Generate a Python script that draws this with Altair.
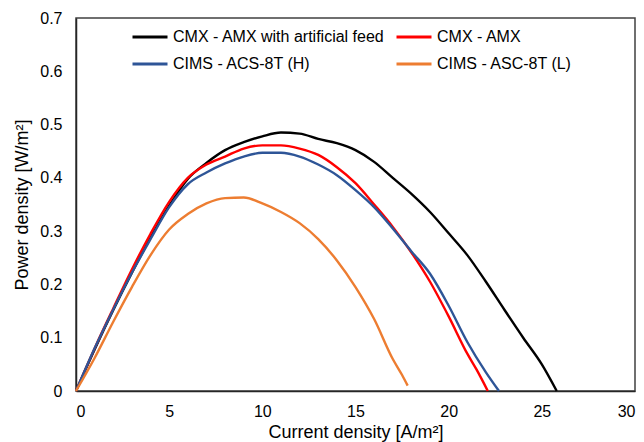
import altair as alt
import pandas as pd

series_names = [
    "CMX - AMX with artificial feed",
    "CMX - AMX",
    "CIMS - ACS-8T (H)",
    "CIMS - ASC-8T (L)",
]
series_colors = ["#000000", "#FF0000", "#2E5597", "#ED7D31"]
# legend is laid out column by column: column 1 = black, blue; column 2 = red, orange
legend_order = [series_names[0], series_names[2], series_names[1], series_names[3]]
legend_colors = [series_colors[0], series_colors[2], series_colors[1], series_colors[3]]

black_x = [0, 1, 2, 3, 4, 5, 6, 7, 8, 9, 10, 11, 12, 13, 14, 15, 16, 17, 18, 19, 20, 21, 22, 23, 24, 25, 25.8]
black_y = [0, 0.078, 0.152, 0.222, 0.288, 0.348, 0.398, 0.428, 0.452, 0.467, 0.478, 0.485, 0.483, 0.473, 0.465, 0.452, 0.43, 0.4, 0.37, 0.336, 0.296, 0.255, 0.205, 0.152, 0.1, 0.05, 0]

red_x = [0, 1, 2, 3, 4, 5, 6, 7, 8, 9, 10, 11, 12, 13, 14, 15, 16, 17, 18, 19, 20, 21, 21.5, 22.1]
red_y = [0, 0.08, 0.155, 0.228, 0.295, 0.355, 0.4, 0.425, 0.44, 0.455, 0.461, 0.461, 0.455, 0.443, 0.42, 0.39, 0.35, 0.308, 0.26, 0.205, 0.14, 0.07, 0.04, 0]

blue_x = [0, 1, 2, 3, 4, 5, 6, 7, 8, 9, 10, 11, 12, 13, 14, 15, 16, 17, 18, 19, 20, 21, 22, 22.7]
blue_y = [0, 0.08, 0.153, 0.222, 0.285, 0.345, 0.388, 0.41, 0.427, 0.44, 0.447, 0.447, 0.44, 0.425, 0.405, 0.377, 0.345, 0.305, 0.262, 0.22, 0.16, 0.092, 0.035, 0]

orange_x = [0, 1, 2, 3, 4, 5, 6, 7, 8, 9, 10, 11, 12, 13, 14, 15, 16, 17, 17.5, 17.8]
orange_y = [0, 0.062, 0.13, 0.195, 0.255, 0.303, 0.332, 0.352, 0.362, 0.363, 0.352, 0.336, 0.315, 0.285, 0.245, 0.195, 0.135, 0.06, 0.03, 0.01]

rows = []
for name, xs, ys in zip(series_names,
                        [black_x, red_x, blue_x, orange_x],
                        [black_y, red_y, blue_y, orange_y]):
    for i, (a, b) in enumerate(zip(xs, ys)):
        rows.append({"series": name, "current": a, "power": b, "idx": i})
df = pd.DataFrame(rows)

FONT = "Liberation Sans"

chart = alt.Chart(df).mark_line(strokeWidth=2.4, interpolate="monotone").encode(
    x=alt.X("current:Q",
            scale=alt.Scale(domain=[0, 30], nice=False),
            axis=alt.Axis(title="Current density [A/m²]", values=[0, 5, 10, 15, 20, 25, 30],
                          grid=False, ticks=False, labelPadding=12, titlePadding=4,
                          domainColor="#262626", domainWidth=1.5)),
    y=alt.Y("power:Q",
            scale=alt.Scale(domain=[0, 0.7], nice=False),
            axis=alt.Axis(title="Power density [W/m²]", values=[0, 0.1, 0.2, 0.3, 0.4, 0.5, 0.6, 0.7],
                          format="~g", grid=False, ticks=False, labelPadding=14, titlePadding=8,
                          domainColor="#262626", domainWidth=1.5)),
    color=alt.Color("series:N",
                    scale=alt.Scale(domain=legend_order, range=legend_colors),
                    sort=legend_order,
                    legend=alt.Legend(title=None, orient="none", legendX=55, legendY=0,
                                      columns=2, columnPadding=5, rowPadding=-9,
                                      symbolType="stroke", symbolSize=1225, symbolStrokeWidth=3,
                                      labelFontSize=16, labelFont=FONT, labelColor="#000000",
                                      labelOffset=4, labelLimit=400)),
    order="idx:Q",
).properties(
    width=559, height=373,
    autosize=alt.AutoSizeParams(type="none"),
    padding={"left": 68, "top": 10, "right": 1, "bottom": 51},
).configure_view(
    stroke="#404040", strokeWidth=1.5
).configure_axis(
    labelFont=FONT, titleFont=FONT, labelFontSize=16, titleFontSize=18,
    labelColor="#000000", titleColor="#000000", titleFontWeight="normal"
)

chart.save("out.html", embed_options={"renderer": "svg", "actions": False})
